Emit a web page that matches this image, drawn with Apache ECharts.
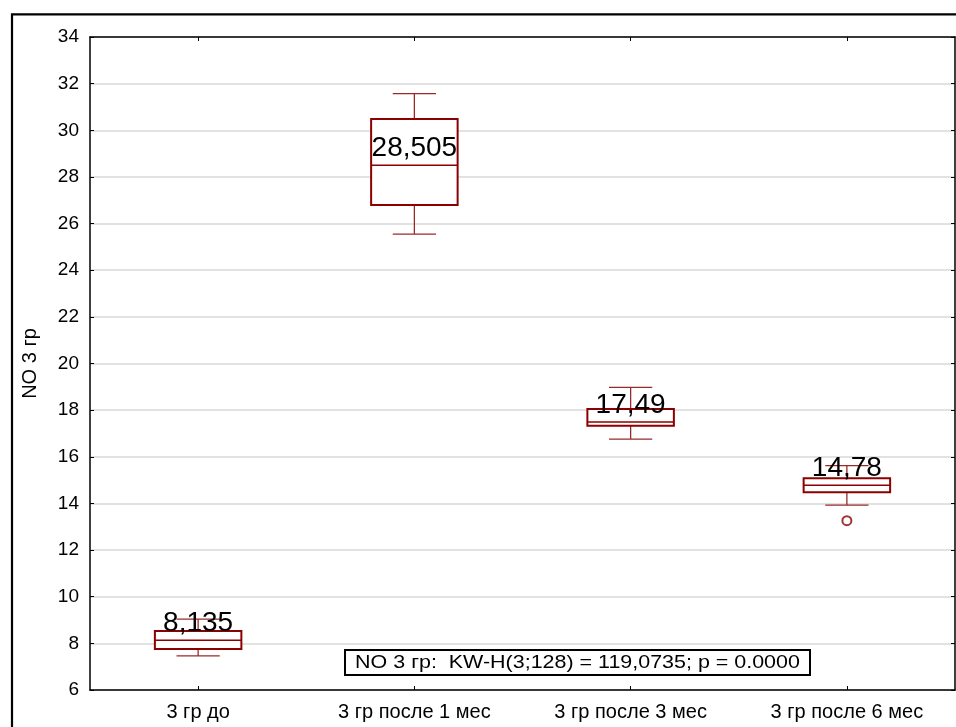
<!DOCTYPE html>
<html>
<head>
<meta charset="utf-8">
<script src="https://cdn.jsdelivr.net/npm/echarts@6/dist/echarts.min.js"></script>
<style>
  html, body { margin: 0; padding: 0; background: #fff; }
  #chart { width: 956px; height: 727px; }
</style>
</head>
<body>
<div id="chart"></div>
<script>
// Groups along the x axis
const categories = ['3 гр до', '3 гр после 1 мес', '3 гр после 3 мес', '3 гр после 6 мес'];
// Box-plot statistics per group
const whiskerLow  = [7.46, 25.55, 16.76, 13.93];
const q1          = [7.76, 26.80, 17.33, 14.48];
const median      = [8.135, 28.505, 17.49, 14.78];
const q3          = [8.53, 30.48, 18.05, 15.08];
const whiskerHigh = [9.04, 31.57, 18.98, 15.62];
// Outlying observations: [group index, value]
const outliers = [[3, 13.26]];
// Y axis ticks
const yMin = 6, yMax = 34, yStep = 2;
const statText = 'NO 3 гр:  KW-H(3;128) = 119,0735; p = 0.0000';

const RED = '#8b0000';
const WHISKER = '#9a2a2a';
const FONT = 'Arial, "Liberation Sans", sans-serif';

const boxData = categories.map((c, i) => [i, whiskerLow[i], q1[i], median[i], q3[i], whiskerHigh[i]]);

function renderBox(params, api) {
  const i = api.value(0);
  const pLow = api.coord([i, api.value(1)]);
  const pQ1 = api.coord([i, api.value(2)]);
  const pMed = api.coord([i, api.value(3)]);
  const pQ3 = api.coord([i, api.value(4)]);
  const pHigh = api.coord([i, api.value(5)]);
  const bandW = api.size([1, 0])[0];
  const boxW = bandW * 0.4;
  const capW = boxW * 0.5;
  const cx = pMed[0];
  const thin = { stroke: WHISKER, lineWidth: 1.3 };
  const label = String(api.value(3)).replace('.', ',');
  return {
    type: 'group',
    children: [
      { type: 'line', shape: { x1: cx, y1: pQ3[1], x2: cx, y2: pHigh[1] }, style: thin },
      { type: 'line', shape: { x1: cx - capW / 2, y1: pHigh[1], x2: cx + capW / 2, y2: pHigh[1] }, style: thin },
      { type: 'line', shape: { x1: cx, y1: pQ1[1], x2: cx, y2: pLow[1] }, style: thin },
      { type: 'line', shape: { x1: cx - capW / 2, y1: pLow[1], x2: cx + capW / 2, y2: pLow[1] }, style: thin },
      { type: 'rect', shape: { x: cx - boxW / 2, y: pQ3[1], width: boxW, height: pQ1[1] - pQ3[1] },
        style: { fill: '#fff', stroke: RED, lineWidth: 2 } },
      { type: 'line', shape: { x1: cx - boxW / 2, y1: pMed[1], x2: cx + boxW / 2, y2: pMed[1] },
        style: { stroke: RED, lineWidth: 1.5 } },
      { type: 'text', x: cx, y: pMed[1] - 3,
        style: { text: label, fill: '#000', font: '28px ' + FONT, textAlign: 'center', textVerticalAlign: 'bottom' } }
    ]
  };
}

const chart = echarts.init(document.getElementById('chart'), null, { renderer: 'canvas' });

const axisLine = { show: true, lineStyle: { color: '#000', width: 1.5 } };
const axisTick = { show: true, inside: true, length: 4, lineStyle: { color: '#000', width: 1 } };

chart.setOption({
  animation: false,
  backgroundColor: '#fff',
  grid: { left: 90, right: 1, top: 37, bottom: 37, containLabel: false },
  xAxis: [
    {
      type: 'category', data: categories, position: 'bottom',
      axisLine: axisLine,
      axisTick: Object.assign({ alignWithLabel: true }, axisTick),
      axisLabel: { color: '#000', fontSize: 20, fontFamily: FONT, margin: 12 },
      splitLine: { show: false }
    },
    {
      type: 'category', data: categories, position: 'top',
      axisLine: axisLine,
      axisTick: Object.assign({ alignWithLabel: true }, axisTick),
      axisLabel: { show: false },
      splitLine: { show: false }
    }
  ],
  yAxis: [
    {
      type: 'value', min: yMin, max: yMax, interval: yStep, position: 'left',
      name: 'NO 3 гр', nameLocation: 'middle', nameGap: 50, nameRotate: 90,
      nameTextStyle: { color: '#000', fontSize: 20, fontFamily: FONT },
      axisLine: axisLine, axisTick: axisTick,
      axisLabel: { color: '#000', fontSize: 19, fontFamily: FONT, margin: 11 },
      splitLine: { show: true, lineStyle: { color: '#d9d9d9', width: 1.5 } }
    },
    {
      type: 'value', min: yMin, max: yMax, interval: yStep, position: 'right',
      axisLine: axisLine, axisTick: axisTick, axisLabel: { show: false },
      splitLine: { show: false }
    }
  ],
  series: [
    {
      type: 'custom', xAxisIndex: 0, yAxisIndex: 0,
      renderItem: renderBox,
      encode: { x: 0, y: [1, 2, 3, 4, 5] },
      data: boxData, z: 3
    },
    {
      type: 'scatter', xAxisIndex: 0, yAxisIndex: 0,
      symbol: 'emptyCircle', symbolSize: 9,
      itemStyle: { color: RED, borderColor: RED, borderWidth: 1.5 },
      data: outliers, z: 4
    }
  ],
  graphic: [
    {
      type: 'rect', silent: true, z: 100,
      shape: { x: 12, y: 14.3, width: 1000, height: 800 },
      style: { fill: 'none', stroke: '#000', lineWidth: 2.2 }
    },
    {
      type: 'rect', silent: true, z: 100,
      shape: { x: 345, y: 650, width: 465, height: 25 },
      style: { fill: '#fff', stroke: '#000', lineWidth: 2 }
    },
    {
      type: 'text', silent: true, z: 101,
      x: 577.5, y: 663, scaleX: 1.16,
      style: { text: statText, fill: '#000', font: '18.5px ' + FONT, textAlign: 'center', textVerticalAlign: 'middle' }
    }
  ]
});
</script>
</body>
</html>
